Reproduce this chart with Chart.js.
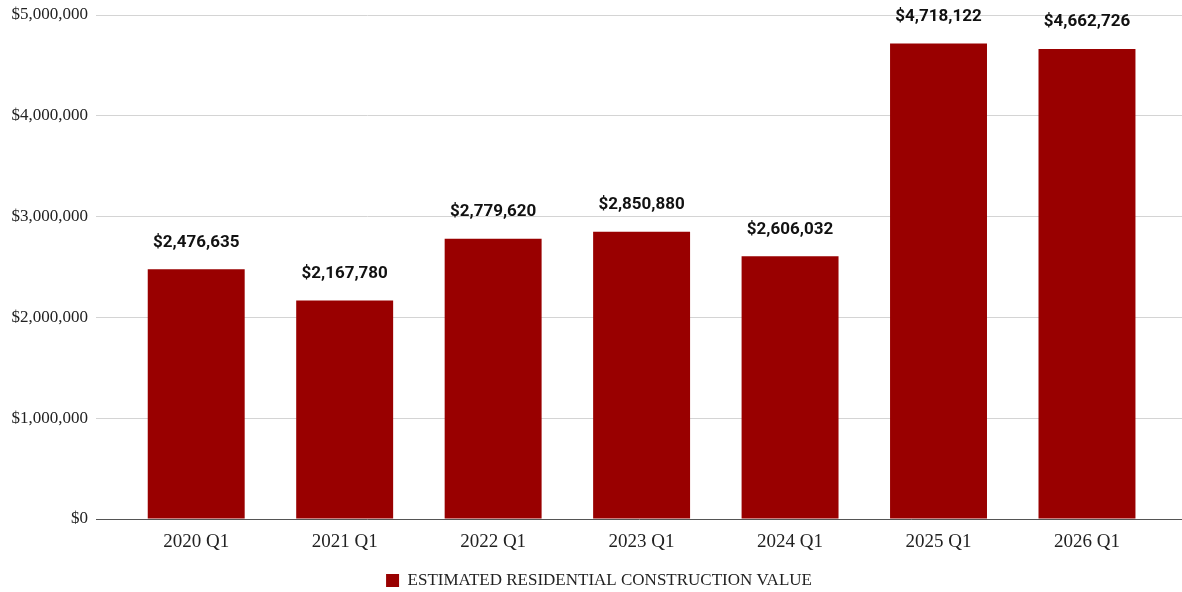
<!DOCTYPE html>
<html>
<head>
<meta charset="utf-8">
<script src="https://cdn.jsdelivr.net/npm/chart.js@4"></script>
<style>
  html, body { margin: 0; padding: 0; background: #fff; }
  #wrap { width: 1182px; height: 592px; }
</style>
</head>
<body>
<div id="wrap"><canvas id="chart"></canvas></div>
<script>
// datos del gráfico
const quarters = ["2020 Q1", "2021 Q1", "2022 Q1", "2023 Q1", "2024 Q1", "2025 Q1", "2026 Q1"];
const values = [2476635, 2167780, 2779620, 2850880, 2606032, 4718122, 4662726];
const yTicks = [0, 1000000, 2000000, 3000000, 4000000, 5000000];
const seriesName = "ESTIMATED RESIDENTIAL CONSTRUCTION VALUE";

const money = (v) => "$" + v.toLocaleString("en-US");

// etiquetas encima de cada barra
const barLabels = {
  id: "barLabels",
  afterDatasetsDraw(chart) {
    const ctx = chart.ctx;
    const meta = chart.getDatasetMeta(0);
    ctx.save();
    ctx.font = "bold 17px Roboto";
    ctx.fillStyle = "#111";
    ctx.textAlign = "center";
    ctx.textBaseline = "middle";
    meta.data.forEach((bar, i) => {
      ctx.fillText(money(values[i]), bar.x, bar.y - 27);
    });
    ctx.restore();
  },
};

// mover la leyenda un poco (abajo y a la derecha)
const legendShift = {
  id: "legendShift",
  afterLayout(chart) {
    const lg = chart.legend;
    if (!lg) return;
    lg.left += 8;
    lg.right += 8;
    lg.top += 7;
    lg.bottom += 7;
  },
};

new Chart(document.getElementById("chart").getContext("2d"), {
  type: "bar",
  data: {
    datasets: [
      {
        label: seriesName,
        data: values.map((v, i) => ({ x: i, y: v })),
        backgroundColor: "#990000",
        borderWidth: 0,
        barPercentage: 0.653,
        categoryPercentage: 1,
      },
    ],
  },
  options: {
    responsive: true,
    maintainAspectRatio: false,
    animation: false,
    layout: { padding: { top: 15, right: 0, left: 0, bottom: 0 } },
    plugins: {
      tooltip: { enabled: false },
      legend: {
        position: "bottom",
        labels: {
          boxWidth: 13,
          boxHeight: 13,
          padding: 6,
          color: "#222",
          font: { family: "Liberation Serif", size: 17 },
        },
      },
    },
    scales: {
      x: {
        type: "linear",
        min: -0.675,
        max: 6.64,
        offset: false,
        afterBuildTicks: (axis) => {
          axis.ticks = quarters.map((_, i) => ({ value: i }));
        },
        afterFit: (axis) => {
          axis.height = 40;
        },
        ticks: {
          autoSkip: false,
          maxRotation: 0,
          padding: 4,
          color: "#222",
          font: { family: "Liberation Serif", size: 19 },
          callback: (v) => quarters[v] ?? "",
        },
        grid: { display: false },
        border: { display: true, color: "#555", width: 1 },
      },
      y: {
        min: 0,
        max: 5000000,
        afterBuildTicks: (axis) => {
          axis.ticks = yTicks.map((v) => ({ value: v }));
        },
        afterFit: (axis) => {
          axis.width = 96;
          axis.paddingTop = 0;
          axis.paddingBottom = 0;
        },
        ticks: {
          padding: 8,
          color: "#222",
          font: { family: "Liberation Serif", size: 17 },
          callback: (v) => money(v),
        },
        grid: { color: "#d4d4d4", drawTicks: false },
        border: { display: false },
      },
    },
  },
  plugins: [barLabels, legendShift],
});
</script>
</body>
</html>
